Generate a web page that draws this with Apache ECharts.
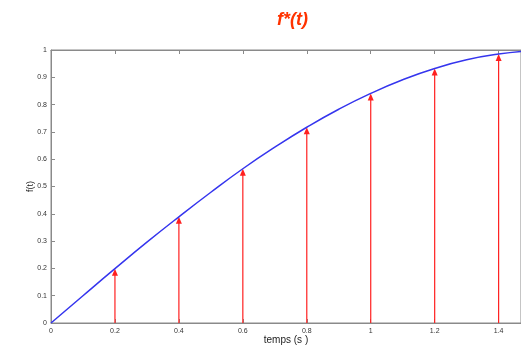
<!DOCTYPE html>
<html>
<head>
<meta charset="utf-8">
<script src="https://cdn.jsdelivr.net/npm/echarts@6/dist/echarts.min.js"></script>
<style>
  html, body { margin: 0; padding: 0; background: #fff; }
  #chart { width: 521px; height: 347px; }
</style>
</head>
<body>
<div id="chart"></div>
<script>
// continuous curve, every 0.1 s
var curveT = [0, 0.1, 0.2, 0.3, 0.4, 0.5, 0.6, 0.7, 0.8, 0.9, 1.0, 1.1, 1.2, 1.3, 1.4, 1.5];
var curveF = [0, 0.10, 0.199, 0.296, 0.389, 0.479, 0.565, 0.644, 0.717, 0.783, 0.841, 0.891, 0.932, 0.964, 0.985, 0.997];

// sampled values (red arrows)
var sampleT = [0.2, 0.4, 0.6, 0.8, 1.0, 1.2, 1.4];
var sampleF = [0.199, 0.389, 0.565, 0.717, 0.841, 0.932, 0.985];

var mychart = echarts.init(document.getElementById('chart'));

var tickLabel = { fontSize: 7, color: '#333', fontFamily: 'Liberation Sans' };

var option = {
  backgroundColor: '#fff',
  animation: false,
  title: {
    text: 'f*(t)',
    left: 272,
    top: 6,
    textStyle: {
      color: '#ff3300',
      fontSize: 18,
      fontWeight: 'bold',
      fontStyle: 'italic',
      fontFamily: 'Liberation Sans'
    }
  },
  grid: {
    left: 51,
    top: 50,
    right: 0,
    height: 273,
    outerBoundsMode: 'none',
    containLabel: false,
    show: true,
    borderColor: '#8a8a8a',
    borderWidth: 1
  },
  xAxis: [
    {
      type: 'value',
      min: 0,
      max: 1.47,
      interval: 0.2,
      name: 'temps (s )',
      nameLocation: 'middle',
      nameGap: 12,
      nameMoveOverlap: false,
      nameTextStyle: { fontSize: 10, color: '#222', fontFamily: 'Liberation Sans', verticalAlign: 'top' },
      axisLine: { lineStyle: { color: '#8a8a8a' } },
      axisTick: { inside: true, length: 4, lineStyle: { color: '#8a8a8a' } },
      axisLabel: Object.assign({ margin: 5, formatter: function (v) { return v > 1.45 ? '' : String(+v.toFixed(1)); } }, tickLabel),
      splitLine: { show: false }
    },
    {
      type: 'value',
      position: 'top',
      min: 0,
      max: 1.47,
      interval: 0.2,
      axisLine: { lineStyle: { color: '#8a8a8a' } },
      axisTick: { inside: true, length: 4, lineStyle: { color: '#8a8a8a' } },
      axisLabel: { show: false },
      splitLine: { show: false }
    }
  ],
  yAxis: {
    type: 'value',
    min: 0,
    max: 1,
    interval: 0.1,
    name: 'f(t)',
    nameLocation: 'middle',
    nameGap: 16,
    nameMoveOverlap: false,
    nameTextStyle: { fontSize: 9, color: '#222', fontFamily: 'Liberation Sans' },
    axisLine: { lineStyle: { color: '#8a8a8a' } },
    axisTick: { inside: true, length: 4, lineStyle: { color: '#8a8a8a' } },
    axisLabel: Object.assign({ margin: 4, formatter: function (v) { return String(+v.toFixed(1)); } }, tickLabel),
    splitLine: { show: false }
  },
  series: [
    {
      type: 'line',
      data: curveT.map(function (t, i) { return [t, curveF[i]]; }),
      smooth: true,
      showSymbol: false,
      lineStyle: { color: '#3535ee', width: 1.5 },
      z: 3
    },
    {
      type: 'custom',
      data: sampleT.map(function (t, i) { return [t, sampleF[i]]; }),
      z: 2,
      renderItem: function (params, api) {
        var base = api.coord([api.value(0), 0]);
        var tip = api.coord([api.value(0), api.value(1)]);
        return {
          type: 'group',
          children: [
            {
              type: 'line',
              shape: { x1: base[0], y1: base[1], x2: tip[0], y2: tip[1] + 4 },
              style: { stroke: '#ff2020', lineWidth: 1.2 }
            },
            {
              type: 'polygon',
              shape: { points: [[tip[0], tip[1]], [tip[0] - 3, tip[1] + 7], [tip[0] + 3, tip[1] + 7]] },
              style: { fill: '#ff2020' }
            }
          ]
        };
      }
    }
  ]
};

mychart.setOption(option);
</script>
</body>
</html>
